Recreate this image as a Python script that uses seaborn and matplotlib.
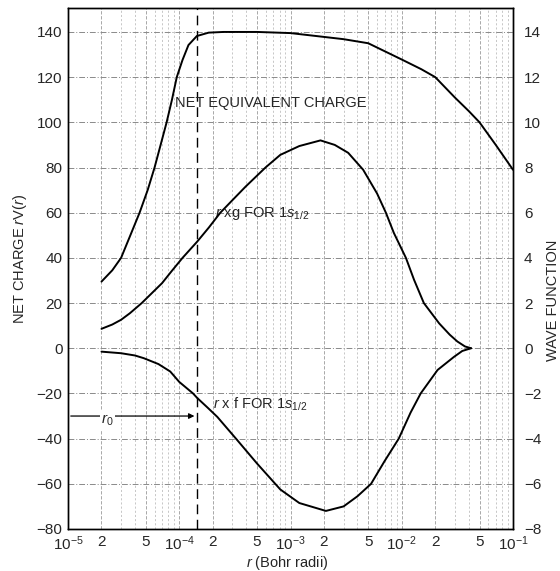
import numpy as np
import pandas as pd
import matplotlib
matplotlib.use("Agg")
import matplotlib.pyplot as plt
import seaborn as sns

# net equivalent charge r*V(r), left axis
r_net = [2e-5, 2.5e-5, 3e-5, 3.6e-5, 4.4e-5, 5.2e-5, 6e-5, 6.8e-5, 7.7e-5, 8.6e-5, 9.5e-5,
         1.07e-4, 1.21e-4, 1.44e-4, 1.84e-4, 2.5e-4, 5e-4, 1e-3, 2e-3, 3e-3, 5e-3,
         7e-3, 1e-2, 1.5e-2, 2e-2, 3e-2, 4e-2, 5e-2, 7e-2, 1e-1]
net_charge = [29.5, 34.5, 40, 49.5, 60, 70, 80, 90, 100, 110, 120,
              127.6, 134.2, 138.2, 139.7, 140, 140, 139.5, 137.8, 136.8, 135,
              131.5, 127.8, 123.5, 120, 111, 105, 100, 90, 79]

# wave functions, right axis
r_g = [2e-5, 2.5e-5, 3e-5, 3.6e-5, 4.6e-5, 5.7e-5, 7e-5, 8.5e-5, 1.07e-4, 1.45e-4,
       1.85e-4, 2.34e-4, 3e-4, 3.94e-4, 5.96e-4, 8.1e-4, 1.2e-3, 1.86e-3, 2.5e-3,
       3.3e-3, 4.5e-3, 6e-3, 7.2e-3, 8.5e-3, 1.09e-2, 1.29e-2, 1.58e-2, 2.17e-2,
       2.7e-2, 3.16e-2, 3.7e-2, 4.2e-2]
rxg = [0.86, 1.05, 1.26, 1.55, 2.0, 2.45, 2.88, 3.4, 4.0, 4.72,
       5.35, 6.0, 6.55, 7.15, 8.0, 8.56, 8.95, 9.2, 9.0,
       8.65, 7.9, 6.85, 6.0, 5.1, 4.0, 3.03, 2.0, 1.1,
       0.6, 0.3, 0.08, 0.0]

r_f = [2e-5, 3e-5, 4e-5, 4.8e-5, 6.5e-5, 8.3e-5, 1e-4, 1.33e-4, 1.45e-4, 1.8e-4, 2.2e-4,
       3.3e-4, 5e-4, 8.1e-4, 1.2e-3, 2.08e-3, 3e-3, 4e-3, 5.3e-3, 7e-3, 9.4e-3, 1.2e-2,
       1.48e-2, 2.1e-2, 2.95e-2, 3.5e-2, 4.2e-2]
rxf = [-0.15, -0.22, -0.32, -0.44, -0.7, -1.03, -1.49, -2.0, -2.2, -2.63, -3.04,
       -4.05, -5.1, -6.25, -6.85, -7.2, -7.0, -6.55, -6.0, -5.0, -4.0, -2.85,
       -2.0, -0.96, -0.38, -0.12, 0.0]

r0 = 1.45e-4
xticks = [1e-5, 2e-5, 5e-5, 1e-4, 2e-4, 5e-4, 1e-3, 2e-3, 5e-3, 1e-2, 2e-2, 5e-2, 1e-1]
xticklabels = ["$10^{-5}$", "2", "5", "$10^{-4}$", "2", "5", "$10^{-3}$", "2", "5",
               "$10^{-2}$", "2", "5", "$10^{-1}$"]

sns.set_style("white")
plt.rcParams["font.family"] = ["Liberation Sans", "DejaVu Sans"]
plt.rcParams["mathtext.fontset"] = "custom"
plt.rcParams["mathtext.rm"] = "Liberation Sans"
plt.rcParams["mathtext.it"] = "Liberation Sans:italic"

fig = plt.figure(figsize=(5.6, 5.71), dpi=100)
ax = fig.add_axes([68 / 560, 1 - 529 / 571, 445 / 560, 521 / 571])
ax2 = ax.twinx()

df_net = pd.DataFrame({"r": r_net, "v": net_charge})
df_g = pd.DataFrame({"r": r_g, "v": rxg})
df_f = pd.DataFrame({"r": r_f, "v": rxf})

sns.lineplot(data=df_net, x="r", y="v", ax=ax, color="black", lw=1.4)
sns.lineplot(data=df_g, x="r", y="v", ax=ax2, color="black", lw=1.4)
sns.lineplot(data=df_f, x="r", y="v", ax=ax2, color="black", lw=1.4)

ax.set_xscale("log")
ax.set_xlim(1e-5, 1e-1)
ax.set_ylim(-80, 150.6)
ax2.set_ylim(-8, 15.06)

ax.set_yticks(np.arange(-80, 141, 20))
ax2.set_yticks(np.arange(-8, 15, 2))
ax.set_xticks(xticks)
ax.set_xticklabels(xticklabels)
ax.xaxis.set_minor_locator(matplotlib.ticker.LogLocator(base=10, subs=np.arange(2, 10)))
ax.xaxis.set_minor_formatter(matplotlib.ticker.NullFormatter())

for a in (ax, ax2):
    a.tick_params(axis="both", which="both", length=0, labelsize=11, pad=4)
    a.set_xlabel("")
    a.set_ylabel("")
    for s in a.spines.values():
        s.set_color("black")
        s.set_linewidth(1.0)
ax2.tick_params(axis="y", pad=8)

# graph-paper style grid
ax.grid(True, which="major", axis="y", color="#8a8a8a", lw=0.7, ls=(0, (6, 2, 1, 2)))
ax.grid(True, which="major", axis="x", color="#9a9a9a", lw=0.6, ls=(0, (4, 2)))
ax.grid(True, which="minor", axis="x", color="#b0b0b0", lw=0.5, ls=(0, (3, 3)))
ax.set_axisbelow(True)

# r0 marker
ax.axvline(r0, color="black", lw=1.0, ls=(0, (7, 4)))
ax.annotate("", xy=(r0, -30), xytext=(1e-5, -30),
            arrowprops=dict(arrowstyle="-|>", color="black", lw=0.9, mutation_scale=8))
ax.text(2.25e-5, -32, "$r_0$", fontsize=11, ha="center", va="center",
        bbox=dict(facecolor="white", edgecolor="none", pad=1))

ax.text(9.2e-5, 108.5, "NET EQUIVALENT CHARGE", fontsize=10.5, va="center")
ax.text(2.1e-4, 59.5, "$r$ xg FOR 1$s_{1/2}$", fontsize=10.5, va="center")
ax.text(2.0e-4, -25, "$r$ x f FOR 1$s_{1/2}$", fontsize=10.5, va="center")

fig.text(20 / 560, 1 - 259 / 571, "NET CHARGE $r$V($r$)", rotation=90,
         ha="center", va="center", fontsize=10.5)
fig.text(553 / 560, 1 - 300 / 571, "WAVE FUNCTION", rotation=90,
         ha="center", va="center", fontsize=10.5)
fig.text(287 / 560, 1 - 563 / 571, "$r$ (Bohr radii)", ha="center", va="center",
         fontsize=10.5)

fig.savefig("out.png", dpi=100)
